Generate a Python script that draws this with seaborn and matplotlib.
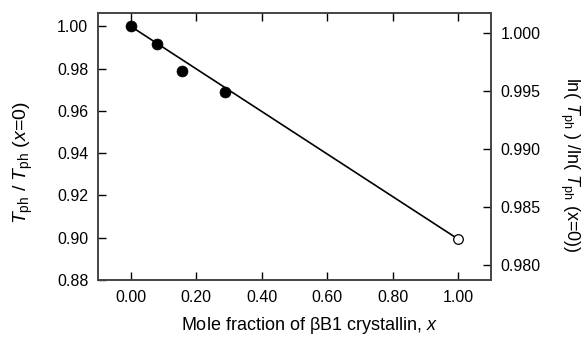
import matplotlib
matplotlib.use("Agg")
import matplotlib.pyplot as plt
import seaborn as sns
import pandas as pd

# data
x_filled = [0.00, 0.079, 0.158, 0.289]
y_filled = [1.000, 0.9914, 0.9788, 0.9689]
x_open = [1.00]
y_open = [0.8993]
x_fit = [0.00, 1.00]
y_fit = [1.000, 0.8993]

xticks = [0.0, 0.2, 0.4, 0.6, 0.8, 1.0]
yticks_left = [0.88, 0.90, 0.92, 0.94, 0.96, 0.98, 1.00]
yticks_right = [0.980, 0.985, 0.990, 0.995, 1.000]

sns.set_theme(style="ticks")
plt.rcParams['font.family'] = ['Liberation Sans', 'DejaVu Sans']
plt.rcParams['mathtext.fontset'] = 'custom'
plt.rcParams['mathtext.rm'] = 'Liberation Sans'
plt.rcParams['mathtext.it'] = 'Liberation Sans:italic'
plt.rcParams['mathtext.bf'] = 'Liberation Sans:bold'
for k in ['text.color', 'axes.labelcolor', 'xtick.color', 'ytick.color',
          'xtick.labelcolor', 'ytick.labelcolor']:
    plt.rcParams[k] = 'black'

fig = plt.figure(figsize=(5.85, 3.37), dpi=100)
L, R, T, B = 98, 491, 13, 280
ax = fig.add_axes([L / 585, 1 - B / 337, (R - L) / 585, (B - T) / 337])

df_fit = pd.DataFrame({"x": x_fit, "y": y_fit})
df_f = pd.DataFrame({"x": x_filled, "y": y_filled})
df_o = pd.DataFrame({"x": x_open, "y": y_open})

sns.lineplot(data=df_fit, x="x", y="y", ax=ax, color="black", linewidth=1.2, zorder=2)
sns.scatterplot(data=df_f, x="x", y="y", ax=ax, color="black", s=62, edgecolor="black", linewidth=0.5, zorder=3)
sns.scatterplot(data=df_o, x="x", y="y", ax=ax, facecolor="white", s=48, edgecolor="black", linewidth=0.9, zorder=3)

ax.set_xlim(-0.1, 1.1)
ax.set_ylim(0.88, 1.0063)
ax.set_xticks(xticks)
ax.set_xticklabels([f"{v:.2f}" for v in xticks])
ax.set_yticks(yticks_left)
ax.set_yticklabels([f"{v:.2f}" for v in yticks_left])
ax.tick_params(axis='both', direction='in', length=6, width=1, color='black',
               labelcolor='black', labelsize=11.5, pad=7, top=True, right=False)
ax.set_xlabel(r"Mole fraction of $\rm\beta$B1 crystallin, $x$", fontsize=13, va='baseline')
ax.xaxis.set_label_coords(0.538, -0.188)
ax.set_ylabel(r"$T_{\rm ph}$ / $T_{\rm ph}$ ($x$=0)", fontsize=14, va='center')
ax.yaxis.set_label_coords(-0.19, 0.44)

for sp in ax.spines.values():
    sp.set_color('#444444')
    sp.set_linewidth(1.2)

ax2 = ax.twinx()
ax2.set_ylim(0.97866, 1.00175)
ax2.set_yticks(yticks_right)
ax2.set_yticklabels([f"{v:.3f}" for v in yticks_right])
ax2.tick_params(axis='y', direction='in', length=6, width=1, color='black',
                labelcolor='black', labelsize=11.5, pad=7)
ax2.set_ylabel(r"ln( $T_{\rm ph}$ ) /ln( $T_{\rm ph}$ (x=0))", fontsize=13, rotation=-90, va='center')
ax2.yaxis.set_label_coords(1.2, 0.43)
for sp in ax2.spines.values():
    sp.set_color('#444444')
    sp.set_linewidth(1.2)

fig.savefig("out.png", dpi=100)
